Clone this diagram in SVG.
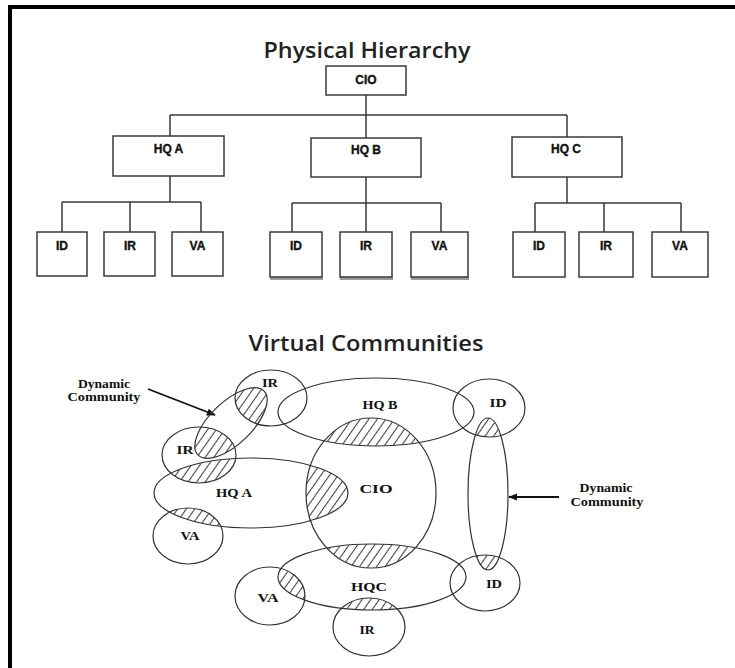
<svg xmlns="http://www.w3.org/2000/svg" width="735" height="668" viewBox="0 0 735 668">
  <style>
    .frame { stroke: #000; stroke-width: 4; fill: none; }
    .title { font-family: "Open Sans", "Liberation Sans", sans-serif; font-weight: 600; fill: #222; }
    .box { fill: #fff; stroke: #3a3a3a; stroke-width: 1.5; }
    .shadow { fill: #9a9a9a; }
    .blabel { font-family: "Liberation Sans", Arial, sans-serif; font-weight: bold; font-size: 12px; fill: #111; stroke: #111; stroke-width: 0.35; text-anchor: middle; }
    .tree { stroke: #3a3a3a; stroke-width: 1.5; fill: none; }
    .ring { fill: none; stroke: #333; stroke-width: 1.2; }
    .elabel { font-family: "Liberation Serif", "Times New Roman", serif; font-weight: bold; font-size: 13px; fill: #111; text-anchor: middle; }
    .note { font-family: "Liberation Serif", "Times New Roman", serif; font-weight: bold; font-size: 12px; fill: #111; text-anchor: middle; }
    .arrow { stroke: #111; stroke-width: 1.8; fill: none; marker-end: url(#head); }
  </style>
  <defs>
    <marker id="head" viewBox="0 0 10 10" refX="9" refY="5" markerWidth="5" markerHeight="5" orient="auto" markerUnits="strokeWidth">
      <path d="M0,1 L10,5 L0,9 Z" fill="#111"/>
    </marker>
    <pattern id="hatch" patternUnits="userSpaceOnUse" width="7" height="7" patternTransform="rotate(35)">
      <line x1="3.5" y1="0" x2="3.5" y2="7" stroke="#444" stroke-width="1.1"/>
    </pattern>
    <!-- community outlines reused as clip regions for the shaded overlaps -->
    <clipPath id="cDynA"><ellipse cx="231" cy="423" rx="46" ry="21" transform="rotate(-44 231 423)"/></clipPath>
    <clipPath id="cDynB"><ellipse cx="488" cy="494" rx="20" ry="76"/></clipPath>
    <clipPath id="cIRt"><ellipse cx="271" cy="398" rx="36" ry="28"/></clipPath>
    <clipPath id="cIRl"><ellipse cx="199" cy="455" rx="37" ry="28"/></clipPath>
    <clipPath id="cIRb"><ellipse cx="369" cy="627" rx="36" ry="29"/></clipPath>
    <clipPath id="cVAl"><ellipse cx="188" cy="536" rx="35" ry="28"/></clipPath>
    <clipPath id="cVAb"><ellipse cx="270" cy="596" rx="35" ry="29"/></clipPath>
    <clipPath id="cIDt"><ellipse cx="489" cy="408" rx="36" ry="29"/></clipPath>
    <clipPath id="cIDb"><ellipse cx="485" cy="583" rx="35" ry="28"/></clipPath>
    <clipPath id="cHQA"><ellipse cx="251" cy="493" rx="97" ry="35"/></clipPath>
    <clipPath id="cHQB"><ellipse cx="376" cy="412" rx="98" ry="34"/></clipPath>
    <clipPath id="cHQC"><ellipse cx="372" cy="577" rx="94" ry="33"/></clipPath>
    <clipPath id="cCIO"><ellipse cx="371" cy="493" rx="65" ry="75"/></clipPath>
  </defs>

  <rect width="735" height="668" fill="#fff"/>
  <path class="frame" d="M10,668 V7 H735"/>

  <!-- ===== Physical hierarchy ===== -->
  <text class="title" x="367" y="58" font-size="21" textLength="207" lengthAdjust="spacingAndGlyphs" text-anchor="middle">Physical Hierarchy</text>

  <g id="connectors">
    <path class="tree" d="M366,95 V115 M170,115 H567 M170,115 V136 M366,115 V138 M567,115 V137"/>
    <path class="tree" d="M170,176 V202 M62,202 H201 M62,202 V232 M130,202 V232 M201,202 V232"/>
    <path class="tree" d="M366,177 V203 M292,203 H441 M292,203 V232 M366,203 V232 M441,203 V232"/>
    <path class="tree" d="M567,177 V203 M535,203 H681 M535,203 V232 M604,203 V232 M681,203 V232"/>
    <line class="arrow" x1="148" y1="389" x2="215" y2="415"/>
    <line class="arrow" x1="559" y1="497" x2="509" y2="497"/>
  </g>

  <g id="cio-box"><rect class="box" x="326" y="66" width="80" height="29"/><text class="blabel" x="366" y="84">CIO</text></g>

  <g id="hqa-box"><rect class="box" x="113" y="136" width="111" height="40"/><text class="blabel" x="168.5" y="153">HQ A</text></g>
  <g id="hqb-box"><rect class="box" x="311" y="138" width="110" height="39"/><text class="blabel" x="366" y="154">HQ B</text></g>
  <g id="hqc-box"><rect class="box" x="512" y="137" width="110" height="40"/><text class="blabel" x="566" y="153">HQ C</text></g>

  <g id="hqa-id"><rect class="box" x="37" y="232" width="50" height="44"/><text class="blabel" x="62" y="250">ID</text></g>
  <g id="hqa-ir"><rect class="box" x="104" y="232" width="51" height="44"/><text class="blabel" x="130" y="250">IR</text></g>
  <g id="hqa-va"><rect class="box" x="172" y="232" width="51" height="44"/><text class="blabel" x="197.5" y="250">VA</text></g>

  <g id="hqb-id"><rect class="shadow" x="270" y="276" width="53" height="4"/><rect class="box" x="270" y="232" width="52" height="45"/><text class="blabel" x="296" y="250">ID</text></g>
  <g id="hqb-ir"><rect class="shadow" x="340" y="276" width="53" height="4"/><rect class="box" x="340" y="232" width="52" height="45"/><text class="blabel" x="366" y="250">IR</text></g>
  <g id="hqb-va"><rect class="shadow" x="411" y="276" width="58" height="4"/><rect class="box" x="411" y="232" width="57" height="45"/><text class="blabel" x="439.5" y="250">VA</text></g>

  <g id="hqc-id"><rect class="box" x="513" y="232" width="52" height="45"/><text class="blabel" x="539" y="250">ID</text></g>
  <g id="hqc-ir"><rect class="box" x="579" y="232" width="54" height="45"/><text class="blabel" x="606" y="250">IR</text></g>
  <g id="hqc-va"><rect class="box" x="652" y="232" width="56" height="45"/><text class="blabel" x="680" y="250">VA</text></g>

  <!-- ===== Virtual communities ===== -->
  <text class="title" x="366" y="351" font-size="22" textLength="235" lengthAdjust="spacingAndGlyphs" text-anchor="middle">Virtual Communities</text>

  <!-- shaded overlaps -->
  <g id="overlaps">
    <g clip-path="url(#cDynA)"><rect x="0" y="360" width="735" height="308" fill="url(#hatch)" clip-path="url(#cIRt)"/></g>
    <g clip-path="url(#cDynA)"><rect x="0" y="360" width="735" height="308" fill="url(#hatch)" clip-path="url(#cIRl)"/></g>
    <g clip-path="url(#cHQA)"><rect x="0" y="360" width="735" height="308" fill="url(#hatch)" clip-path="url(#cIRl)"/></g>
    <g clip-path="url(#cHQA)"><rect x="0" y="360" width="735" height="308" fill="url(#hatch)" clip-path="url(#cVAl)"/></g>
    <g clip-path="url(#cHQA)"><rect x="0" y="360" width="735" height="308" fill="url(#hatch)" clip-path="url(#cCIO)"/></g>
    <g clip-path="url(#cHQB)"><rect x="0" y="360" width="735" height="308" fill="url(#hatch)" clip-path="url(#cCIO)"/></g>
    <g clip-path="url(#cHQC)"><rect x="0" y="360" width="735" height="308" fill="url(#hatch)" clip-path="url(#cCIO)"/></g>
    <g clip-path="url(#cHQC)"><rect x="0" y="360" width="735" height="308" fill="url(#hatch)" clip-path="url(#cVAb)"/></g>
    <g clip-path="url(#cHQC)"><rect x="0" y="360" width="735" height="308" fill="url(#hatch)" clip-path="url(#cIRb)"/></g>
    <g clip-path="url(#cDynB)"><rect x="0" y="360" width="735" height="308" fill="url(#hatch)" clip-path="url(#cIDt)"/></g>
    <g clip-path="url(#cDynB)"><rect x="0" y="360" width="735" height="308" fill="url(#hatch)" clip-path="url(#cIDb)"/></g>
  </g>

  <g id="dyn-left"><ellipse class="ring" cx="231" cy="423" rx="46" ry="21" transform="rotate(-44 231 423)"/></g>
  <g id="dyn-right"><ellipse class="ring" cx="488" cy="494" rx="20" ry="76"/></g>

  <g id="v-ir-top"><ellipse class="ring" cx="271" cy="398" rx="36" ry="28"/><text class="elabel" x="270" y="387" textLength="16" lengthAdjust="spacingAndGlyphs">IR</text></g>
  <g id="v-ir-left"><ellipse class="ring" cx="199" cy="455" rx="37" ry="28"/><text class="elabel" x="185" y="454" textLength="17" lengthAdjust="spacingAndGlyphs">IR</text></g>
  <g id="v-hqb"><ellipse class="ring" cx="376" cy="412" rx="98" ry="34"/><text class="elabel" x="380" y="409" textLength="35" lengthAdjust="spacingAndGlyphs">HQ B</text></g>
  <g id="v-id-top"><ellipse class="ring" cx="489" cy="408" rx="36" ry="29"/><text class="elabel" x="498" y="407" textLength="17" lengthAdjust="spacingAndGlyphs">ID</text></g>
  <g id="v-hqa"><ellipse class="ring" cx="251" cy="493" rx="97" ry="35"/><text class="elabel" x="234" y="497" textLength="36" lengthAdjust="spacingAndGlyphs">HQ A</text></g>
  <g id="v-cio"><ellipse class="ring" cx="371" cy="493" rx="65" ry="75"/><text class="elabel" x="376" y="493" textLength="33" lengthAdjust="spacingAndGlyphs">CIO</text></g>
  <g id="v-va-left"><ellipse class="ring" cx="188" cy="536" rx="35" ry="28"/><text class="elabel" x="190" y="540" textLength="19" lengthAdjust="spacingAndGlyphs">VA</text></g>
  <g id="v-hqc"><ellipse class="ring" cx="372" cy="577" rx="94" ry="33"/><text class="elabel" x="369" y="591" textLength="36" lengthAdjust="spacingAndGlyphs">HQC</text></g>
  <g id="v-va-bottom"><ellipse class="ring" cx="270" cy="596" rx="35" ry="29"/><text class="elabel" x="268" y="602" textLength="21" lengthAdjust="spacingAndGlyphs">VA</text></g>
  <g id="v-ir-bottom"><ellipse class="ring" cx="369" cy="627" rx="36" ry="29"/><text class="elabel" x="367" y="634" textLength="15" lengthAdjust="spacingAndGlyphs">IR</text></g>
  <g id="v-id-bottom"><ellipse class="ring" cx="485" cy="583" rx="35" ry="28"/><text class="elabel" x="494" y="588" textLength="16" lengthAdjust="spacingAndGlyphs">ID</text></g>

  <g id="note-left">
    <text class="note" x="104" y="388" textLength="52" lengthAdjust="spacingAndGlyphs">Dynamic</text>
    <text class="note" x="104" y="401" textLength="73" lengthAdjust="spacingAndGlyphs">Community</text>
  </g>
  <g id="note-right">
    <text class="note" x="606" y="492" textLength="53" lengthAdjust="spacingAndGlyphs">Dynamic</text>
    <text class="note" x="607" y="506" textLength="73" lengthAdjust="spacingAndGlyphs">Community</text>
  </g>
</svg>
